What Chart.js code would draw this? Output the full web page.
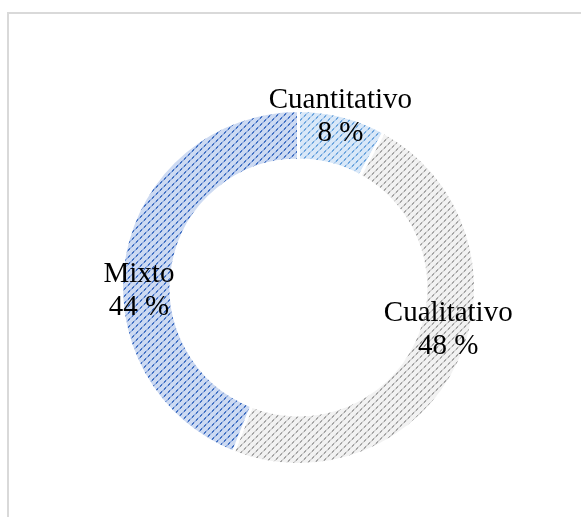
<!DOCTYPE html>
<html>
<head>
<meta charset="utf-8">
<script src="https://cdn.jsdelivr.net/npm/chart.js@4"></script>
<style>
  html, body { margin: 0; padding: 0; background: #fff; overflow: hidden; }
  #wrap { position: relative; width: 581px; height: 517px; }
  #frame {
    position: absolute; left: 7px; top: 12px; width: 700px; height: 600px;
    border-top: 2px solid #d9d9d9; border-left: 2px solid #d9d9d9;
  }
  canvas { position: absolute; left: 0; top: 0; }
</style>
</head>
<body>
<div id="wrap">
  <div id="frame"></div>
  <canvas id="chart" width="581" height="517"></canvas>
</div>
<script>
const categories = ['Cuantitativo', 'Cualitativo', 'Mixto'];
const percents = [8, 48, 44];
const percentLabels = ['8 %', '48 %', '44 %'];

// base / light stripe / dark stripe colour for each slice
const baseColors = ['#d9e8f8', '#f2f2f2', '#cddaf2'];
const midColors = ['#b0cfef', '#d4d4d4', '#98b2e2'];
const darkColors = ['#6ea6de', '#a6a6a6', '#4472c4'];

// nudges of the labels from the middle of each ring slice
const labelNudge = [[4, -24], [12, -23], [-10, 31]];

function hatch(base, mid, dark) {
    const size = 28;
    const c = document.createElement('canvas');
    c.width = size;
    c.height = size;
    const g = c.getContext('2d');
    for (let x = 0; x < size; x++) {
        for (let y = 0; y < size; y++) {
            const s = (x + y) % 7;
            if (s === 6 || s === 0) {
                g.fillStyle = Math.floor(x / 2) % 2 === 0 ? dark : mid;
            } else {
                g.fillStyle = base;
            }
            g.fillRect(x, y, 1, 1);
        }
    }
    return g.createPattern(c, 'repeat');
}

const labelPlugin = {
    id: 'sliceLabels',
    afterDatasetsDraw(chart) {
        const ctx = chart.ctx;
        const meta = chart.getDatasetMeta(0);
        ctx.save();
        ctx.font = '29px "Liberation Serif", "Times New Roman", serif';
        ctx.fillStyle = '#000';
        ctx.textAlign = 'center';
        ctx.textBaseline = 'middle';
        meta.data.forEach((arc, i) => {
            const p = arc.tooltipPosition();
            const x = p.x + labelNudge[i][0];
            const y = p.y + labelNudge[i][1];
            ctx.fillText(categories[i], x, y - 16);
            ctx.fillText(percentLabels[i], x, y + 17);
        });
        ctx.restore();
    }
};

new Chart(document.getElementById('chart'), {
    type: 'doughnut',
    data: {
        labels: categories,
        datasets: [{
            data: percents,
            backgroundColor: baseColors.map((b, i) => hatch(b, midColors[i], darkColors[i])),
            borderColor: '#ffffff',
            borderWidth: 3
        }]
    },
    options: {
        responsive: false,
        animation: false,
        cutout: '72%',
        layout: { padding: { top: 109, bottom: 51, left: 120, right: 104 } },
        plugins: {
            legend: { display: false },
            tooltip: { enabled: false }
        }
    },
    plugins: [labelPlugin]
});
</script>
</body>
</html>
